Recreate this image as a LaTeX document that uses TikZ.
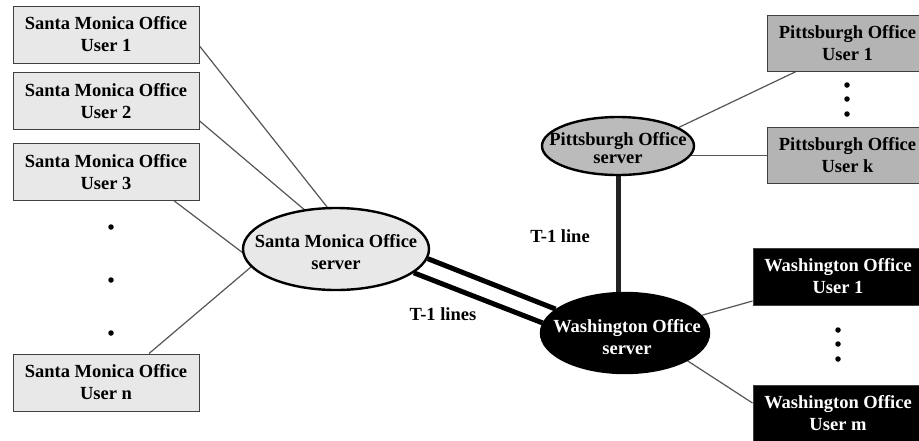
\documentclass[tikz,border=0pt]{standalone}
\usepackage{fontspec}
\setmainfont{Liberation Serif}
\usetikzlibrary{shapes.geometric,backgrounds}
\definecolor{smfill}{HTML}{E8E8E8}
\definecolor{pfill}{HTML}{B4B4B4}
\definecolor{psfill}{HTML}{BBBBBB}
\definecolor{boxline}{HTML}{404040}
\definecolor{conn}{HTML}{555555}
\definecolor{tline}{HTML}{222222}
\begin{document}
\begin{tikzpicture}[x=1pt,y=-1pt,
  txt/.style={font=\fontsize{18.5}{22}\selectfont\bfseries, align=center},
  userbox/.style={txt, rectangle, draw=boxline, line width=1pt, inner sep=0pt, minimum height=57pt},
  smbox/.style={userbox, fill=smfill, minimum width=186pt},
  pbox/.style={userbox, fill=pfill, minimum width=161pt, minimum height=56pt},
  wbox/.style={userbox, fill=black, text=white, minimum width=170pt},
  server/.style={ellipse, draw=black, line width=2.4pt, inner sep=0pt},
  conline/.style={draw=conn, line width=1.2pt},
  tone/.style={draw=black, line width=5pt},
  dotmark/.style={circle, fill=black, inner sep=0pt, minimum size=5.5pt}
]
\useasboundingbox (0,0) rectangle (919,440);
\clip (0,0) rectangle (919,440);

% users
\node[smbox] (smu1) at (106,34.5) {Santa Monica Office\\User 1};
\node[smbox] (smu2) at (106,101) {Santa Monica Office\\User 2};
\node[smbox] (smu3) at (106,172) {Santa Monica Office\\User 3};
\node[smbox] (smun) at (106,382.5) {Santa Monica Office\\User n};
\node[pbox] (pu1) at (847.5,43) {Pittsburgh Office\\User 1};
\node[pbox] (puk) at (847.5,155.5) {Pittsburgh Office\\User k};
\node[wbox] (wu1) at (838,276.5) {Washington Office\\User 1};
\node[wbox] (wum) at (838,413.5) {Washington Office\\User m};

% servers
\node[server, fill=smfill, minimum width=186pt, minimum height=82pt] (sm) at (336,249) {};
\node[txt] (smtext) at (336,252) {Santa Monica Office\\server};
\node[server, fill=psfill, minimum width=152pt, minimum height=58pt] (ps) at (618,146) {};
\node[txt, font=\fontsize{18.5}{18.5}\selectfont\bfseries] (pstext) at (618,148) {Pittsburgh Office\\server};
\node[server, fill=black, minimum width=168pt, minimum height=80pt] (ws) at (625,333) {};
\node[txt, text=white] (wstext) at (627,337) {Washington Office\\server};

% dots
\node[dotmark] (d1) at (111,227) {};
\node[dotmark] (d2) at (111,280) {};
\node[dotmark] (d3) at (111,333) {};
\node[dotmark] (d4) at (847,85) {};
\node[dotmark] (d5) at (847,99) {};
\node[dotmark] (d6) at (847,114) {};
\node[dotmark] (d7) at (838,330) {};
\node[dotmark] (d8) at (838,344) {};
\node[dotmark] (d9) at (838,359) {};

% labels
\node[txt] (l1) at (443,314) {T-1 lines};
\node[txt] (l2) at (560,236) {T-1 line};

\begin{scope}[on background layer]
  \draw[conline] (smu1.-7.7) -- (sm.102);
  \draw[conline] (smu2.-12.7) -- (sm.129);
  \draw[conline] (smu3.-23.6) -- (sm.182);
  \draw[conline] (smun.34.2) -- (sm.192);
  \draw[conline] (pu1.-151.9) -- (ps.17.7);
  \draw[conline] (puk.west) -- (puk.west -| ps.center);
  \draw[conline] (wu1.-164.5) -- (ws.13.7);
  \draw[conline] (wum.173) -- (ws.-24.8);
  \draw[tone] (sm.-6.9) -- (ws.161.6);
  \draw[tone] (sm.-17.6) -- (ws.173);
  \draw[draw=tline, line width=5pt] (ps.center) -- (ps.center |- ws.center);
\end{scope}
\end{tikzpicture}
\end{document}
